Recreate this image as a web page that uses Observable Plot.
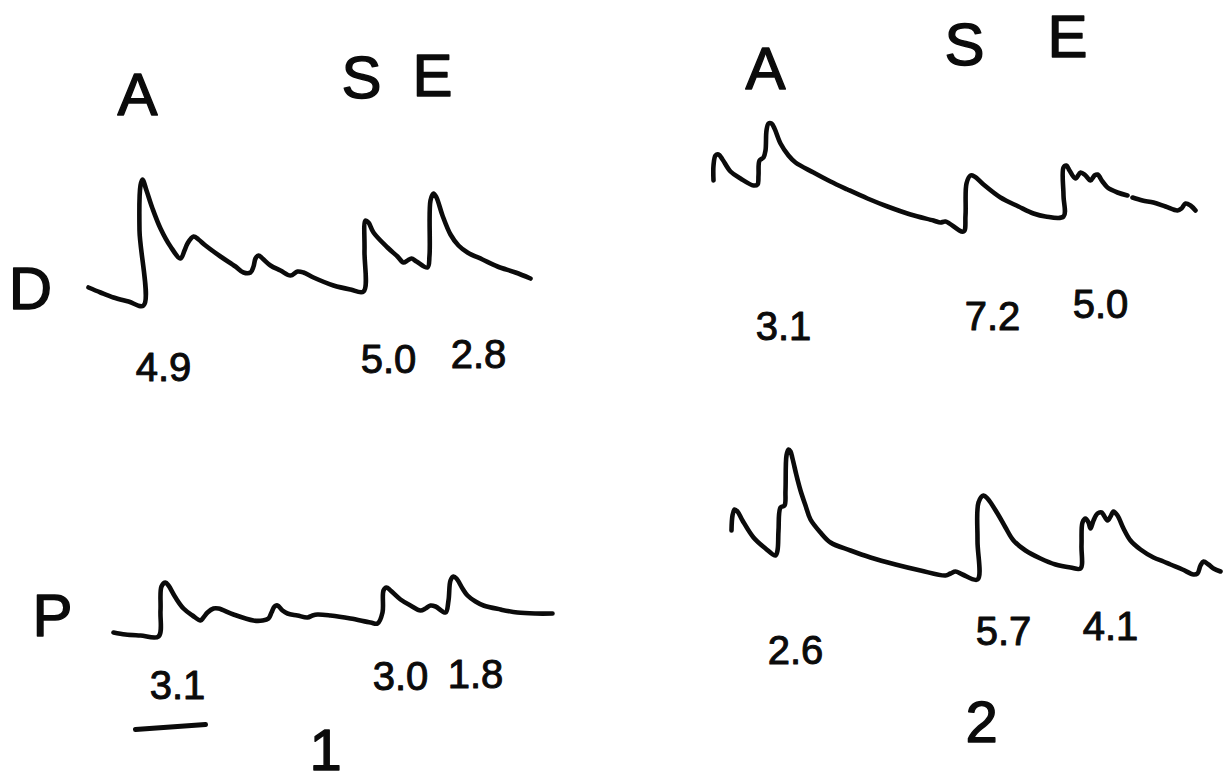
<!DOCTYPE html>
<html>
<head>
<meta charset="utf-8">
<script src="https://cdn.jsdelivr.net/npm/d3@7"></script>
<script src="https://cdn.jsdelivr.net/npm/@observablehq/plot@0.6"></script>
<style>
  html, body { margin: 0; padding: 0; background: #fff; }
  #chart svg { display: block; }
</style>
</head>
<body>
<div id="chart"></div>
<script>
// Recorded traces, figure units (x to the right, y downward).
// Panel 1: D (distal) and P (proximal) responses to stimuli A, S, E.
const traceD1 = [
  [88,287],[100,292],[113,297],[128,301],[143,305],[139,230],[140,185],[142,179],[146,190],
  [152,208],[160,228],[170,246],[180,258],[184,250],[187,243],[193,236],[198,239],[205,245],
  [220,256],[235,266],[243,272],[250,272],[253,266],[255,258],[258,255],[262,258],[270,265],
  [280,270],[290,275],[297,271],[303,272],[313,277],[333,285],[350,289],[363,291],[364,250],
  [365,220],[368,222],[373,232],[387,247],[397,256],[403,262],[407,260],[411,258],[416,261],
  [427,267],[429,255],[430,200],[433,193],[436,197],[442,215],[450,234],[458,245],[467,252],
  [482,259],[497,266],[515,272],[530,278]
];
const traceP1 = [
  [113,632],[125,634],[140,635],[158,636],[160,610],[161,586],[165,582],[168,585],[175,597],
  [183,608],[192,615],[200,620],[203,617],[207,612],[213,608],[218,608],[233,614],[253,620],
  [262,620],[268,618],[271,612],[274,606],[277,605],[282,610],[287,613],[297,615],[307,617],
  [312,615],[317,614],[330,615],[350,618],[370,622],[377,623],[382,612],[383,590],[386,587],
  [390,590],[400,599],[410,605],[420,610],[425,608],[430,605],[435,606],[445,612],[448,600],
  [450,580],[453,576],[456,578],[462,588],[467,595],[475,601],[483,605],[500,609],[517,612],
  [535,613],[552,613]
];
// Panel 2: same stimuli, second preparation (pen lifts briefly near the end of D).
const traceD2 = [
  [713,180],[713,165],[715,155],[718,154],[722,159],[730,171],[740,178],[753,185],[757,184],
  [758,175],[759,160],[763,157],[765,150],[766,130],[768,123],[771,123],[774,128],[780,143],
  [788,155],[795,162],[813,172],[830,181],[847,189],[867,198],[887,206],[910,214],[933,220],
  [940,222],[945,221],[963,231],[965,215],[966,183],[970,175],[974,176],[983,184],[1000,197],
  [1018,206],[1033,213],[1045,216],[1063,216],[1063,195],[1063,167],[1066,165],[1069,170],
  [1075,178],[1080,172],[1085,175],[1090,180],[1094,175],[1097,174],[1102,181],[1107,187],
  [1117,192],[1127,195],[1130,null],[1132,197],[1142,200],[1153,202],[1165,206],[1177,210],
  [1181,208],[1185,203],[1190,205],[1195,210]
];
const traceP2 = [
  [731,530],[732,515],[734,509],[737,511],[742,520],[753,537],[765,548],[775,555],[777,550],
  [778,530],[780,507],[784,505],[785,490],[786,455],[788,449],[790,451],[792,458],[796,475],
  [800,490],[805,505],[810,519],[820,532],[830,542],[850,550],[870,557],[895,564],[920,570],
  [945,575],[950,573],[955,571],[962,574],[977,579],[977,540],[978,502],[983,495],[987,498],
  [997,513],[1005,527],[1013,540],[1025,550],[1040,558],[1055,564],[1070,567],[1080,568],
  [1081,545],[1082,522],[1085,518],[1088,522],[1090,528],[1093,520],[1097,513],[1101,512],
  [1107,520],[1110,516],[1113,511],[1117,515],[1123,528],[1130,540],[1140,549],[1153,557],
  [1163,561],[1170,564],[1182,569],[1193,574],[1197,573],[1200,565],[1203,561],[1208,564],
  [1213,568],[1220,571]
];

// Stimulus markers above each panel
const stimulusLabels = [
  {label: "A", x: 137, y: 95},  {label: "S", x: 361, y: 78},  {label: "E", x: 432, y: 76},
  {label: "A", x: 765, y: 69},  {label: "S", x: 964, y: 45},  {label: "E", x: 1067, y: 37}
];
// Row labels
const rowLabels = [
  {label: "D", x: 30, y: 289},
  {label: "P", x: 52, y: 616}
];
// Response amplitudes written under each deflection
const amplitudes = [
  {value: "4.9", x: 163, y: 368}, {value: "5.0", x: 388, y: 360}, {value: "2.8", x: 478, y: 355},
  {value: "3.1", x: 177, y: 686}, {value: "3.0", x: 400, y: 677}, {value: "1.8", x: 475, y: 675},
  {value: "3.1", x: 783, y: 327}, {value: "7.2", x: 992, y: 317}, {value: "5.0", x: 1100, y: 305},
  {value: "2.6", x: 795, y: 651}, {value: "5.7", x: 1003, y: 632}, {value: "4.1", x: 1110, y: 627}
];
// Panel numbers
const panelNumbers = [
  {label: "1", x: 325, y: 751},
  {label: "2", x: 981, y: 723}
];
// Time calibration bar under panel 1
const scaleBar = [[135,729],[205,724]];

const ink = "#0b0b0b";
const toPoints = (arr) => arr.map(([x, y]) => ({x, y}));

const lineOpts = {
  x: "x", y: "y", stroke: ink, strokeWidth: 4.6,
  curve: "catmull-rom", strokeLinejoin: "round", strokeLinecap: "round"
};
// Lettering is drawn with a thin outline to give the pen-stroke weight
const letterOpts = {x: "x", y: "y", fill: ink, stroke: ink, strokeWidth: 1.4, strokeLinejoin: "round"};

const chart = Plot.plot({
  width: 1227,
  height: 782,
  margin: 0,
  x: {domain: [0, 1227], axis: null},
  y: {domain: [782, 0], axis: null},
  style: {background: "#fff", fontFamily: "'Liberation Sans', Arial, sans-serif", color: ink},
  marks: [
    Plot.line(toPoints(traceD1), lineOpts),
    Plot.line(toPoints(traceP1), lineOpts),
    Plot.line(toPoints(traceD2), lineOpts),
    Plot.line(toPoints(traceP2), lineOpts),
    Plot.line(toPoints(scaleBar), {...lineOpts, strokeWidth: 5, curve: "linear"}),
    Plot.text(stimulusLabels, {...letterOpts, text: "label", fontSize: 60}),
    Plot.text(rowLabels, {...letterOpts, text: "label", fontSize: 60}),
    Plot.text(amplitudes, {...letterOpts, text: "value", fontSize: 40, strokeWidth: 1}),
    Plot.text(panelNumbers, {...letterOpts, text: "label", fontSize: 58})
  ]
});

document.getElementById("chart").appendChild(chart);
</script>
</body>
</html>
